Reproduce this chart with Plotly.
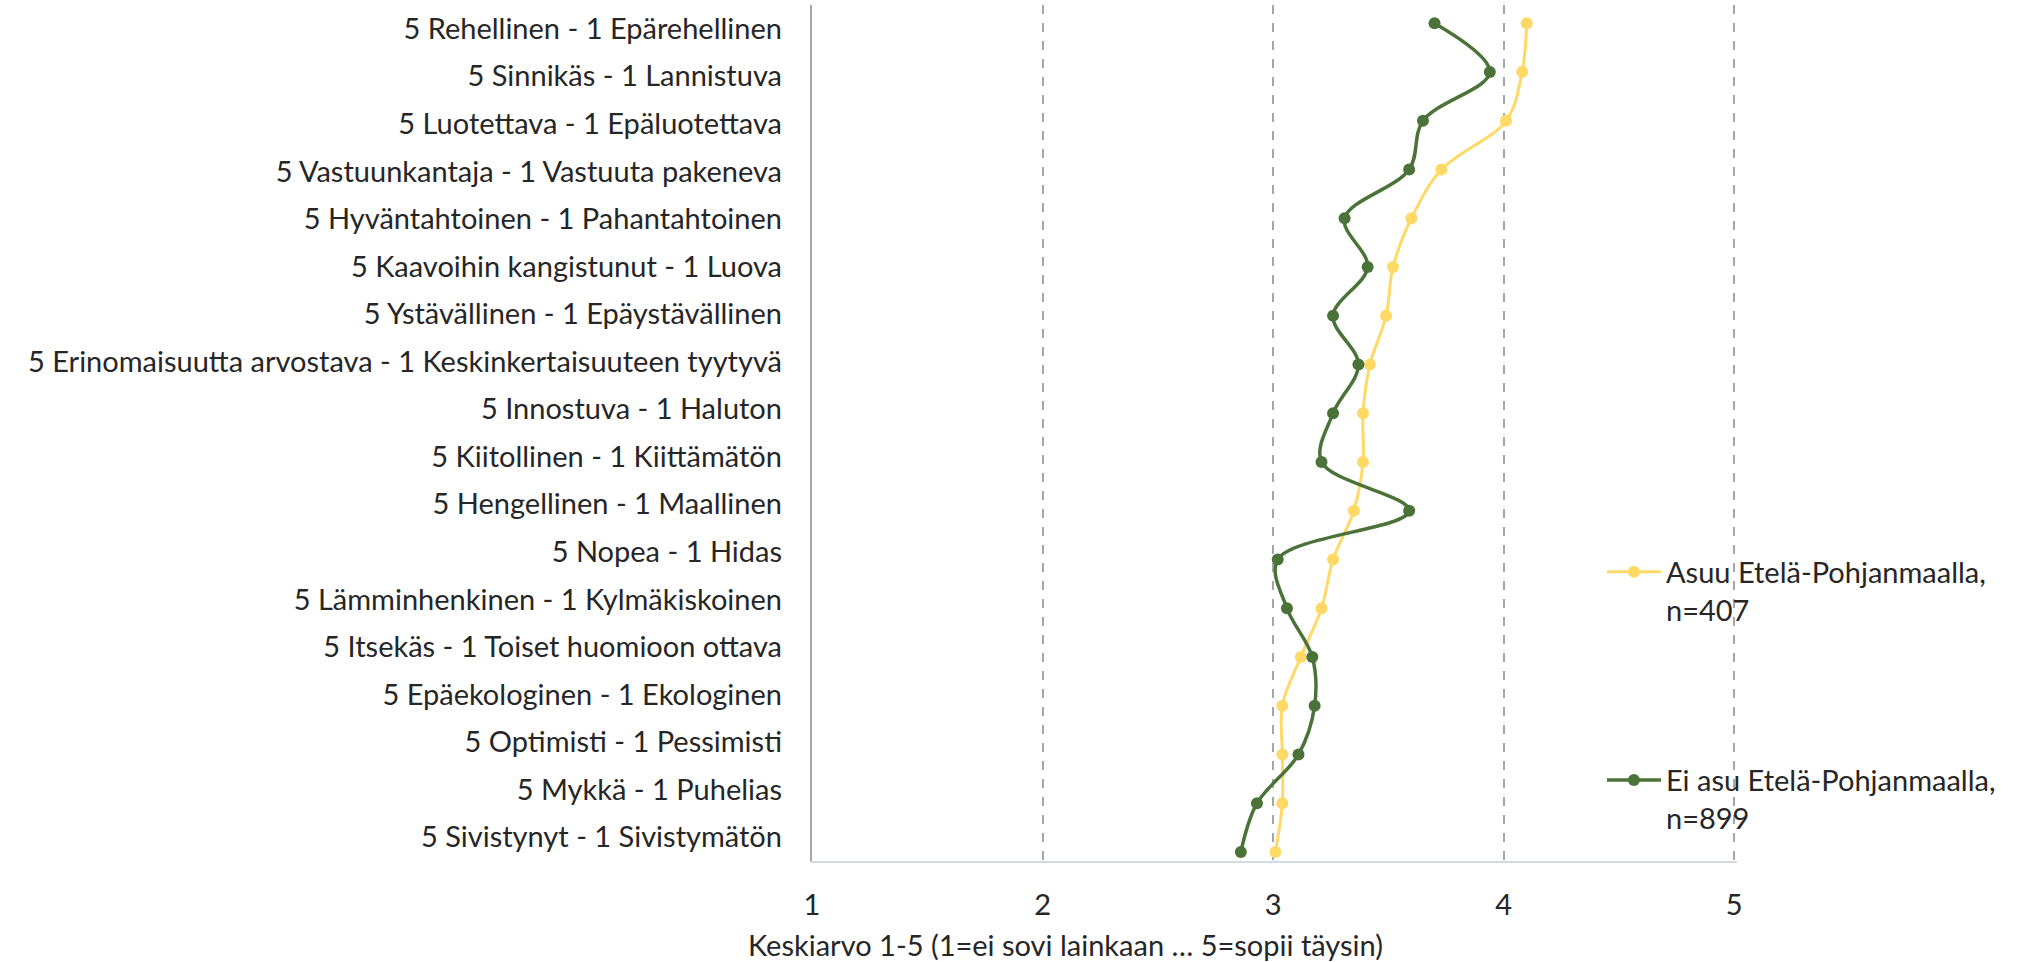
import plotly.graph_objects as go

labels = [
    "5 Rehellinen - 1 Epärehellinen",
    "5 Sinnikäs - 1 Lannistuva",
    "5 Luotettava - 1 Epäluotettava",
    "5 Vastuunkantaja - 1 Vastuuta pakeneva",
    "5 Hyväntahtoinen - 1 Pahantahtoinen",
    "5 Kaavoihin kangistunut - 1 Luova",
    "5 Ystävällinen - 1 Epäystävällinen",
    "5 Erinomaisuutta arvostava - 1 Keskinkertaisuuteen tyytyvä",
    "5 Innostuva - 1 Haluton",
    "5 Kiitollinen - 1 Kiittämätön",
    "5 Hengellinen - 1 Maallinen",
    "5 Nopea - 1 Hidas",
    "5 Lämminhenkinen - 1 Kylmäkiskoinen",
    "5 Itsekäs - 1 Toiset huomioon ottava",
    "5 Epäekologinen - 1 Ekologinen",
    "5 Optimisti - 1 Pessimisti",
    "5 Mykkä - 1 Puhelias",
    "5 Sivistynyt - 1 Sivistymätön",
]

asuu = [4.10, 4.08, 4.01, 3.73, 3.60, 3.52, 3.49, 3.42, 3.39, 3.39,
        3.35, 3.26, 3.21, 3.12, 3.04, 3.04, 3.04, 3.01]
ei_asu = [3.70, 3.94, 3.65, 3.59, 3.31, 3.41, 3.26, 3.37, 3.26, 3.21,
          3.59, 3.02, 3.06, 3.17, 3.18, 3.11, 2.93, 2.86]

name_asuu = "Asuu Etelä-Pohjanmaalla,<br>n=407"
name_ei = "Ei asu Etelä-Pohjanmaalla,<br>n=899"
x_ticks = [1, 2, 3, 4, 5]
x_title = "Keskiarvo 1-5 (1=ei sovi lainkaan … 5=sopii täysin)"

row_pos = list(range(len(labels), 0, -1))

FONT = "Lato"
FS = 29
TXT = "#262626"
YELLOW = "#FFD966"
GREEN = "#4B7339"

fig = go.Figure()

# invisible trace carrying the category labels
fig.add_trace(go.Scatter(
    x=asuu, y=labels, yaxis="y2", mode="markers",
    marker=dict(opacity=0), showlegend=False, hoverinfo="skip",
))

fig.add_trace(go.Scatter(
    x=asuu, y=row_pos, name=name_asuu, legendgroup="a",
    mode="lines+markers",
    line=dict(color=YELLOW, width=3, shape="spline", smoothing=1.0),
    marker=dict(color=YELLOW, size=12),
))
fig.add_trace(go.Scatter(
    x=ei_asu, y=row_pos, name=name_ei, legendgroup="b",
    mode="lines+markers",
    line=dict(color=GREEN, width=3.5, shape="spline", smoothing=1.0),
    marker=dict(color=GREEN, size=12),
))

fig.update_layout(
    width=2037, height=962,
    margin=dict(l=812, r=300, t=5, b=101),
    paper_bgcolor="white", plot_bgcolor="white",
    font=dict(family=FONT, size=FS, color=TXT),
    xaxis=dict(
        range=[1, 5.012], tickvals=x_ticks, ticktext=[str(v) for v in x_ticks],
        showgrid=True, gridcolor="#A6A6A6", gridwidth=1.5, griddash="dash",
        zeroline=False, showline=True, linecolor="#D0DCE0", linewidth=2,
        ticks="", ticklabelstandoff=17,
        tickfont=dict(size=FS),
    ),
    yaxis=dict(
        range=[0.815, 18.375], showgrid=False, zeroline=False,
        showticklabels=False, ticks="",
        showline=True, linecolor="#A6A6A6", linewidth=1.5,
    ),
    yaxis2=dict(
        overlaying="y", side="left", type="category",
        categoryorder="array", categoryarray=labels[::-1],
        range=[-0.5, len(labels) - 0.5],
        showgrid=False, zeroline=False, showline=False, ticks="",
        ticklabelstandoff=29, tickfont=dict(size=FS, color=TXT),
    ),
    legend=dict(
        x=0.854, y=0.3676, xanchor="left", yanchor="top",
        bgcolor="rgba(0,0,0,0)", font=dict(size=FS, color=TXT),
        tracegroupgap=130, valign="top", itemwidth=54,
    ),
    annotations=[dict(
        text=x_title, xref="paper", yref="paper",
        x=0.2745, y=-0.098, xanchor="center", yanchor="middle",
        showarrow=False, font=dict(size=FS, color=TXT),
    )],
    showlegend=True,
)

fig.write_html("out.html", config={"displayModeBar": False},
               post_script="document.body.style.margin='0';")
